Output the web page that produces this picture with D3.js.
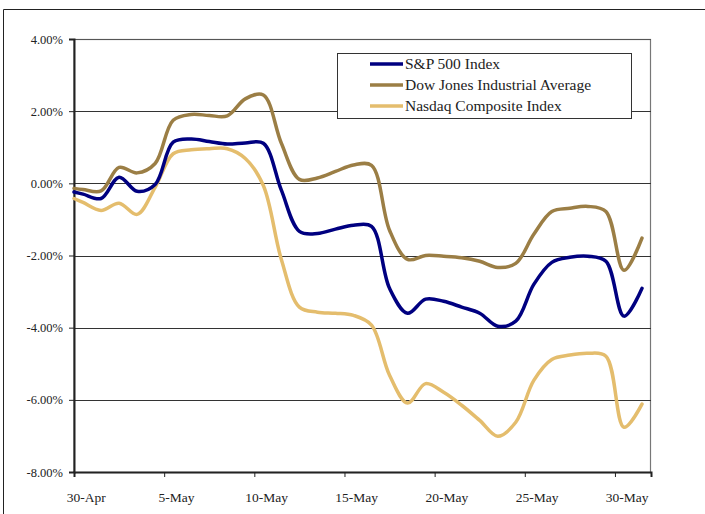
<!DOCTYPE html>
<html><head><meta charset="utf-8">
<script src="https://cdn.jsdelivr.net/npm/d3@7"></script>
<style>
html,body{margin:0;padding:0;background:#fff;}
svg{display:block;}
svg text{font-family:'Liberation Serif','Times New Roman',serif !important;fill:#222;}
</style></head>
<body>
<svg id="c" width="705" height="514"></svg>
<script>
// day offsets from 30-Apr (category boundaries at integers, centers at .5)
const positions = [0,0.5,1.5,2.5,3.5,4.5,5.5,6.5,7.5,8.5,9.5,10.5,11.5,12.5,13.5,14.5,15.5,16.5,17.5,18.5,19.5,20.5,21.5,22.5,23.5,24.5,25.5,26.5,27.5,28.5,29.5,30.5,31.5];
const sp500  = [-0.24,-0.30,-0.42,0.17,-0.22,-0.03,1.14,1.23,1.16,1.09,1.12,1.11,-0.19,-1.33,-1.39,-1.27,-1.16,-1.19,-2.91,-3.60,-3.21,-3.27,-3.43,-3.60,-3.96,-3.82,-2.80,-2.19,-2.05,-2.02,-2.16,-3.68,-2.91];
const dow    = [-0.14,-0.17,-0.21,0.44,0.29,0.55,1.75,1.91,1.88,1.87,2.34,2.45,1.11,0.11,0.15,0.33,0.51,0.50,-1.30,-2.11,-2.00,-2.02,-2.06,-2.16,-2.33,-2.22,-1.41,-0.78,-0.69,-0.64,-0.78,-2.41,-1.52];
const nasdaq = [-0.42,-0.53,-0.75,-0.55,-0.86,-0.11,0.82,0.93,0.96,0.96,0.69,-0.06,-2.11,-3.43,-3.57,-3.60,-3.66,-3.93,-5.32,-6.09,-5.55,-5.79,-6.15,-6.57,-7.01,-6.62,-5.46,-4.88,-4.76,-4.71,-4.79,-6.76,-6.12];
const seriesNames = ["S&P 500 Index","Dow Jones Industrial Average","Nasdaq Composite Index"];
const seriesColors = ["#000080","#9B7E45","#E4BD6D"];
const xTickDays = [0,5,10,15,20,25,30];
const xTickLabels = ["30-Apr","5-May","10-May","15-May","20-May","25-May","30-May"];
const yTicks = [-8,-6,-4,-2,0,2,4];

const FONT = "'Liberation Serif','Times New Roman',serif";
const svg = d3.select("#c");
const L=74, R=651, T=39, B=472;
const x = d3.scaleLinear().domain([0,32]).range([L,R]);
const y = d3.scaleLinear().domain([-8,4]).range([B,T]);

// outer chart-area border
svg.append("path").attr("d","M3.5,514 V9.5 H705").attr("fill","none").attr("stroke","#222").attr("stroke-width",1);

// plot area border (top/right gray)
svg.append("rect").attr("x",L).attr("y",T+0.5).attr("width",R-L-0.5).attr("height",B-T).attr("fill","none").attr("stroke","#777").attr("stroke-width",1.2);

// gridlines
svg.append("g").selectAll("line").data(yTicks.filter(v=>v>-8)).join("line")
  .attr("x1",L).attr("x2",R).attr("y1",d=>Math.round(y(d))+0.5).attr("y2",d=>Math.round(y(d))+0.5)
  .attr("stroke",d=>d===4?"#555":"#333").attr("stroke-width",1);

// y axis
const fmt = v => (v<0?"-":"") + Math.abs(v).toFixed(2) + "%";
const yAxis = svg.append("g").attr("transform",`translate(${L},0)`)
  .call(d3.axisLeft(y).tickValues(yTicks).tickFormat(fmt).tickSize(5).tickPadding(6));
yAxis.attr("font-family",FONT);
yAxis.select(".domain").attr("stroke","#222").attr("stroke-width",2);
yAxis.selectAll(".tick line").attr("stroke","#222");
yAxis.selectAll("text").attr("font-size","12.5px").attr("fill","#222").style("font-family",FONT);

// x axis
const xAxis = svg.append("g").attr("transform",`translate(0,${B})`)
  .call(d3.axisBottom(x).tickValues(xTickDays).tickFormat((d,i)=>xTickLabels[i]).tickSize(5).tickPadding(15));
xAxis.attr("font-family",FONT);
xAxis.select(".domain").attr("stroke","#222").attr("stroke-width",2);
xAxis.selectAll(".tick line").attr("stroke","#222");
xAxis.selectAll("text").attr("font-size","13.5px").attr("fill","#222").style("font-family",FONT)
  .attr("dx", x(0.65)-x(0));

// lines
const data = [sp500, dow, nasdaq];
const line = d3.line().x((d,i)=>x(positions[i])).y(d=>y(d)).curve(d3.curveCatmullRom.alpha(0.5));
const order = [2,1,0];
order.forEach(k=>{
  svg.append("path").datum(data[k]).attr("d",line).attr("fill","none")
    .attr("stroke",seriesColors[k]).attr("stroke-width",3.5).attr("stroke-linejoin","round").attr("stroke-linecap","round");
});

// legend
const lg = svg.append("g");
lg.append("rect").attr("x",337.5).attr("y",53.5).attr("width",294).attr("height",65).attr("fill","#fff").attr("stroke","#333").attr("stroke-width",1);
seriesNames.forEach((n,i)=>{
  const yy = 64 + i*21;
  lg.append("line").attr("x1",370).attr("x2",403).attr("y1",yy).attr("y2",yy).attr("stroke",seriesColors[i]).attr("stroke-width",3.5);
  lg.append("text").attr("x",405).attr("y",yy).attr("dy","0.35em").attr("font-size","15.5px").style("font-family",FONT).text(n);
});
</script>
</body></html>
